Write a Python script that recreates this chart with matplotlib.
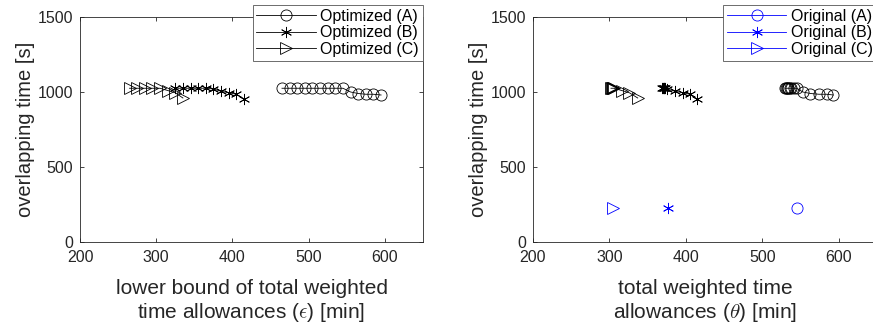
import matplotlib
matplotlib.use("Agg")
import matplotlib.pyplot as plt

plt.rcParams["font.family"] = ["Liberation Sans", "DejaVu Sans"]
plt.rcParams["mathtext.fontset"] = "cm"

# optimized results: lower bound eps (left) and realised theta (right)
eps_A = [465, 475, 485, 495, 505, 515, 525, 535, 545, 555, 565, 575, 585, 595]
eps_B = [325, 335, 345, 355, 365, 375, 385, 395, 405, 415]
eps_C = [265, 275, 285, 295, 305, 315, 325, 335]

theta_A = [530, 531, 532, 533, 534, 536, 538, 541, 545, 553, 563, 574, 584, 593]
theta_B = [369, 370, 371, 372, 373, 375, 386, 396, 405, 414]
theta_C = [302, 303, 304, 305, 306, 316, 326, 337]

ovl_A = [1025, 1025, 1025, 1025, 1025, 1025, 1025, 1025, 1025, 1000, 990, 985, 985, 980]
ovl_B = [1025, 1025, 1025, 1025, 1025, 1020, 1005, 995, 985, 955]
ovl_C = [1025, 1025, 1025, 1025, 1025, 1010, 995, 960]

# original timetables
orig_theta = [546, 376, 305]
orig_ovl = [228, 228, 228]

labels_opt = ["Optimized (A)", "Optimized (B)", "Optimized (C)"]
labels_orig = ["Original (A)", "Original (B)", "Original (C)"]

ASTER = (6, 2, 0)
markers = ["o", ASTER, ">"]
AX_COL = "#262626"
FS = 11.5

fig = plt.figure(figsize=(8.73, 3.27), dpi=100)
ax1 = fig.add_axes([80 / 873, 85 / 327, 343 / 873, 225 / 327])
ax2 = fig.add_axes([533 / 873, 85 / 327, 344 / 873, 225 / 327])


def style(ax):
    ax.set_xlim(200, 650)
    ax.set_ylim(0, 1500)
    ax.set_xticks([200, 300, 400, 500, 600])
    ax.set_yticks([0, 500, 1000, 1500])
    ax.tick_params(direction="in", length=3, width=0.6, colors=AX_COL,
                   labelsize=FS, top=True, right=True)
    ax.tick_params(axis="x", pad=6)
    ax.tick_params(axis="y", pad=5)
    for s in ax.spines.values():
        s.set_color(AX_COL)
        s.set_linewidth(0.6)
    ax.set_ylabel("overlapping time [s]", fontsize=14.5, color=AX_COL, labelpad=2)


def legend(ax, handles, labels):
    leg = ax.legend(handles, labels, loc="upper right", bbox_to_anchor=(1.0, 1.055),
                    fontsize=FS, fancybox=False, framealpha=1, edgecolor="#555555",
                    handlelength=3.7, handletextpad=0.3, borderpad=0.25,
                    labelspacing=0.1, borderaxespad=0)
    leg.get_frame().set_linewidth(0.6)


# left: against lower bound eps
hs = []
for x, y, m, lab in zip([eps_A, eps_B, eps_C], [ovl_A, ovl_B, ovl_C], markers, labels_opt):
    h, = ax1.plot(x, y, color="black", lw=0.6, marker=m, ms=8, mfc="none",
                  mec="black", mew=0.6, label=lab)
    hs.append(h)
style(ax1)
ax1.set_xlabel("lower bound of total weighted\ntime allowances ($\\epsilon$) [min]",
               fontsize=15, color=AX_COL, labelpad=10, linespacing=1.15)
legend(ax1, hs, labels_opt)

# right: against realised theta
hs = []
for x, y, m, lab in zip(orig_theta, orig_ovl, markers, labels_orig):
    h, = ax2.plot([x], [y], color="#0000ff", lw=0.6, marker=m, ms=8, mfc="none",
                  mec="#0000ff", mew=0.6, label=lab)
    hs.append(h)
for x, y, m in zip([theta_A, theta_B, theta_C], [ovl_A, ovl_B, ovl_C], markers):
    ax2.plot(x, y, color="black", lw=0.6, marker=m, ms=8, mfc="none",
             mec="black", mew=0.6)
style(ax2)
ax2.set_xlabel("total weighted time\nallowances ($\\theta$) [min]",
               fontsize=15, color=AX_COL, labelpad=10, linespacing=1.15)
legend(ax2, hs, labels_orig)

fig.savefig("out.png", dpi=100)
